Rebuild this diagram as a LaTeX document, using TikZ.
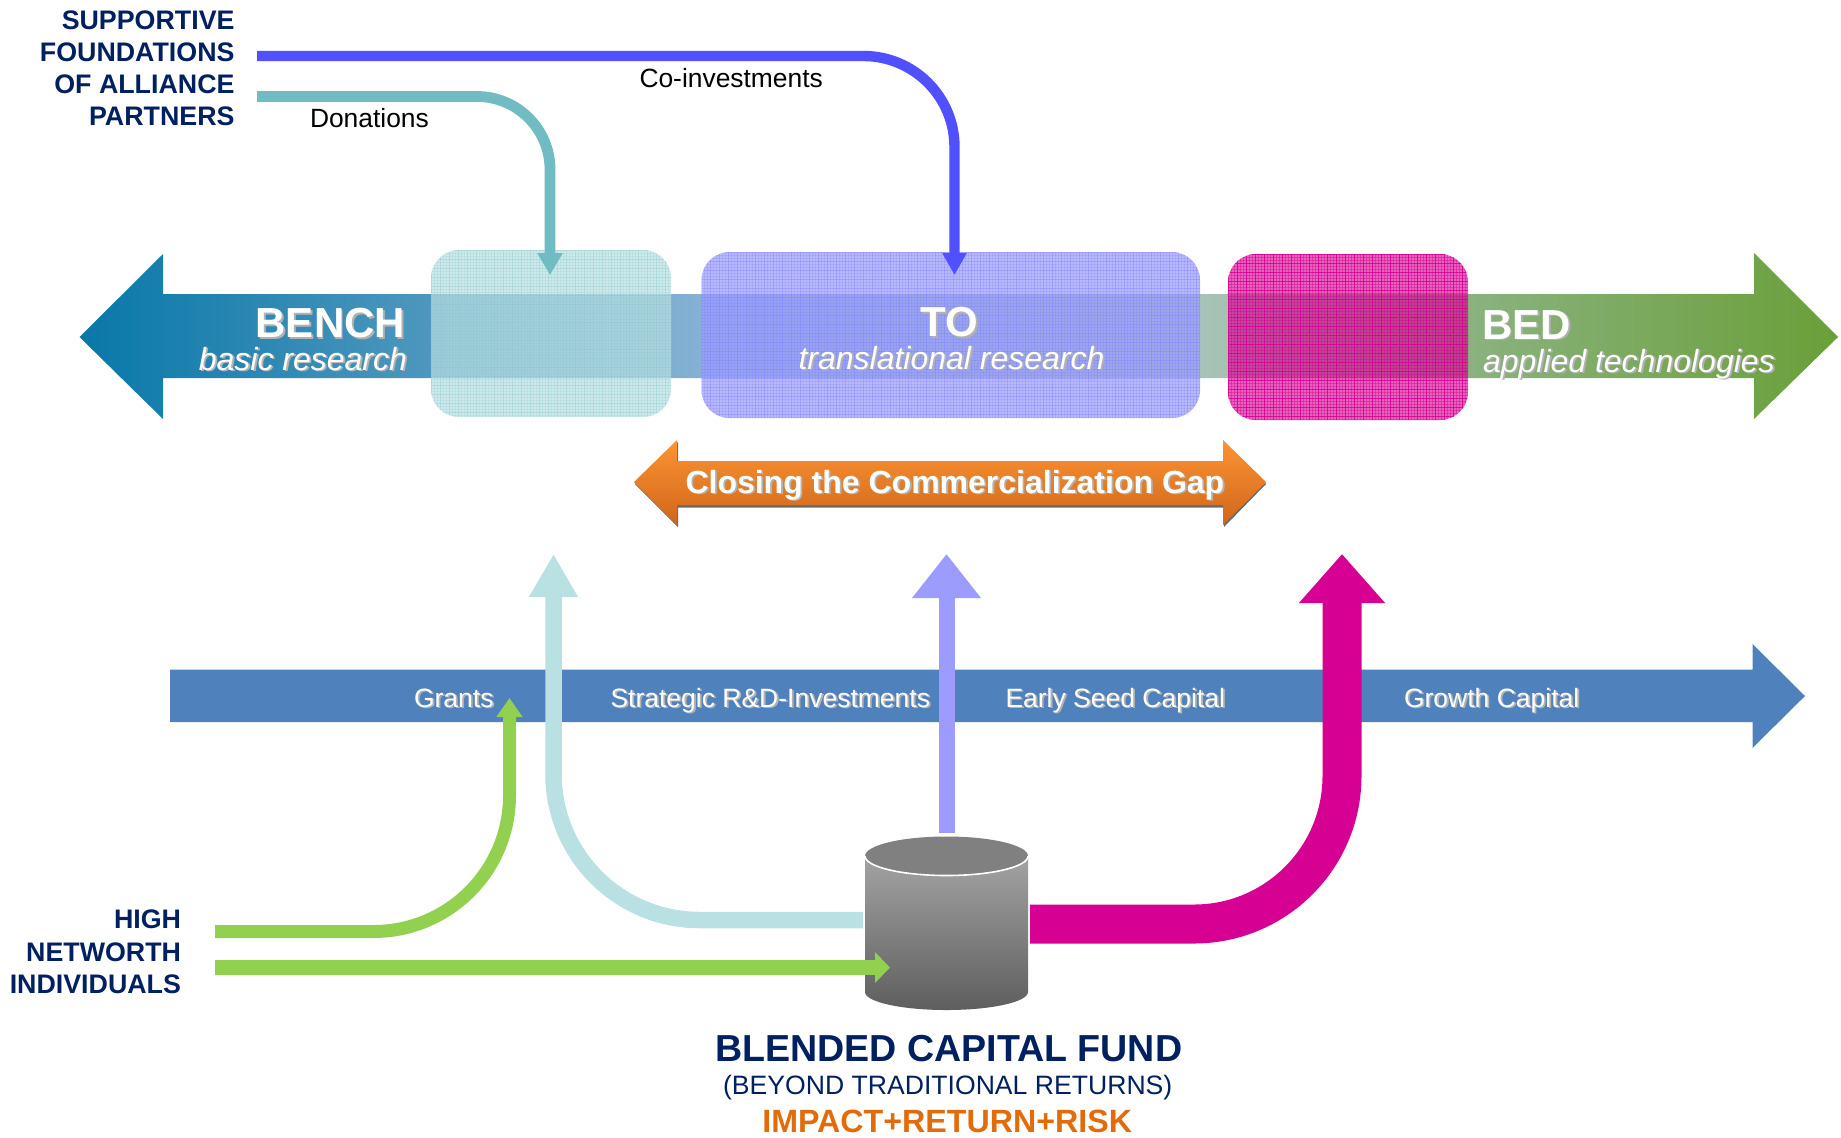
\documentclass[tikz,border=0pt]{standalone}
\usepackage{fontspec}
\setmainfont{Liberation Sans}
\usetikzlibrary{arrows.meta}
\definecolor{navy}{HTML}{002060}
\definecolor{orangetxt}{HTML}{E36C0A}
\definecolor{bandblue}{HTML}{4F81BD}
\definecolor{coblue}{HTML}{5050FF}
\definecolor{donteal}{HTML}{70BCC2}
\definecolor{paleteal}{HTML}{B9E0E3}
\definecolor{lav}{HTML}{9C9CFF}
\definecolor{mag}{HTML}{D60093}
\definecolor{grn}{HTML}{92D050}
\definecolor{bbA}{HTML}{0878A8}
\definecolor{bbB}{HTML}{4E97BE}
\definecolor{bbC}{HTML}{85B1D3}
\definecolor{bbD}{HTML}{A7C3B8}
\definecolor{bbE}{HTML}{8AB27F}
\definecolor{bbF}{HTML}{6A9F38}
\definecolor{gapTop}{HTML}{FC9434}
\definecolor{gapBot}{HTML}{D0661A}
\definecolor{cylTop}{HTML}{A3A3A3}
\definecolor{cylBot}{HTML}{5E5E5E}
\pgfdeclarehorizontalshading{benchbed}{100bp}{
  color(0bp)=(bbA);
  color(25bp)=(bbA);
  color(35bp)=(bbB);
  color(42.65bp)=(bbC);
  color(56.87bp)=(bbD);
  color(64.5bp)=(bbE);
  color(75bp)=(bbF);
  color(100bp)=(bbF)}
\newcommand\shtext[1]{\leavevmode\rlap{\kern.9pt\smash{\raisebox{-.9pt}{\textcolor{black!30}{#1}}}}#1}
\newcommand\plaid[7]{% x1 y1 x2 y2 colour fineopacity coarseopacity
  \begin{scope}
    \clip[rounded corners=14pt] (#1,#2) rectangle (#3,#4);
    \pgfmathsetmacro\xnext{#1+3}\pgfmathsetmacro\ynext{#2+3}
    \pgfmathsetmacro\xnexc{#1+9}\pgfmathsetmacro\ynexc{#2+9}
    \foreach \v in {#1,\xnext,...,#3} \draw[#5,line width=.35pt,opacity=#6] (\v,#2) -- (\v,#4);
    \foreach \v in {#2,\ynext,...,#4} \draw[#5,line width=.35pt,opacity=#6] (#1,\v) -- (#3,\v);
    \foreach \v in {#1,\xnexc,...,#3} \draw[#5,line width=.5pt,opacity=#7] (\v,#2) -- (\v,#4);
    \foreach \v in {#2,\ynexc,...,#4} \draw[#5,line width=.5pt,opacity=#7] (#1,\v) -- (#3,\v);
  \end{scope}}
\tikzset{
  x=0.5pt,y=-0.5pt,
  lbl/.style={inner sep=0pt,outer sep=0pt},
  side/.style={lbl,anchor=base east,text=navy,font=\fontsize{13.4}{13.4}\selectfont\bfseries},
  flowlabel/.style={lbl,anchor=base west,text=black,font=\fontsize{13.2}{13.2}\selectfont},
  bandlabel/.style={lbl,anchor=base west,text=white,font=\fontsize{13.25}{13.25}\selectfont},
  bigword/.style={lbl,text=white,font=\fontsize{21}{21}\selectfont\bfseries},
  subword/.style={lbl,text=white,font=\fontsize{16}{16}\selectfont\itshape},
  softbox/.style={rounded corners=14pt,inner sep=0pt,outer sep=0pt},
  flow/.style={line cap=butt,line join=round},
}
\begin{document}
\begin{tikzpicture}
\useasboundingbox (0,0) rectangle (1841,1137);

% coordinates for connector ends
\coordinate (coStart) at (257,56);
\coordinate (coBend) at (954.5,56);
\coordinate (coTip) at (954.5,275);
\coordinate (donStart) at (257,96.5);
\coordinate (donBend) at (550,96.5);
\coordinate (donTip) at (550,275);
\coordinate (paleStart) at (863,920);
\coordinate (paleBend) at (553.5,920);
\coordinate (paleTip) at (553.5,554);
\coordinate (lavStart) at (946.5,833);
\coordinate (lavTip) at (946.5,554);
\coordinate (magStart) at (1030,924);
\coordinate (magBend) at (1342,924);
\coordinate (magTip) at (1342,554);
\coordinate (grnStart) at (215,931.5);
\coordinate (grnBend) at (509.5,931.5);
\coordinate (grnTip) at (509.5,698);
\coordinate (grnbStart) at (215,967.5);
\coordinate (grnbTip) at (890,967.5);

% bench-to-bed arrow
\shade[shading=benchbed] (79.5,337) -- (163,254) -- (163,294) -- (1754,294) -- (1754,253) -- (1838,337) -- (1754,419) -- (1754,378) -- (163,378) -- (163,419) -- cycle;

% translucent boxes
\node[softbox,fill=paleteal,fill opacity=.72,minimum width=120pt,minimum height=83.5pt] (boxBench) at (551,333.5) {};
\plaid{431}{250}{671}{417}{paleteal!75!teal}{.22}{.22}
\node[softbox,fill=lav,fill opacity=.72,minimum width=249.25pt,minimum height=83pt] (boxTo) at (950.75,335) {};
\plaid{701.5}{252}{1200}{418}{lav!80!blue}{.22}{.22}
\node[softbox,fill=mag,fill opacity=.62,minimum width=120pt,minimum height=83pt] (boxBed) at (1348,337) {};
\plaid{1228}{254}{1468}{420}{mag}{.4}{.8}

% labels on the top arrow
\node[bigword,anchor=base east] (benchLabel) at (405,337.5) {\shtext{BENCH}};
\node[subword,anchor=base east] (benchSub) at (407,370) {\shtext{basic research}};
\node[bigword,anchor=base] (toLabel) at (949.3,336.5) {\shtext{TO}};
\node[subword,anchor=base] (toSub) at (951.5,369) {\shtext{translational research}};
\node[bigword,anchor=base west] (bedLabel) at (1482,339) {\shtext{BED}};
\node[subword,anchor=base west] (bedSub) at (1483,372) {\shtext{applied technologies}};

% gap arrow
\fill[black!58] (635,484) -- (678,442) -- (678,463.5) -- (1224,463.5) -- (1224,442) -- (1266,484) -- (1224,527) -- (1224,507.5) -- (678,507.5) -- (678,527) -- cycle;
\shade[top color=gapTop,bottom color=gapBot] (634,482) -- (677,440) -- (677,461) -- (1223,461) -- (1223,440) -- (1266,482) -- (1223,525) -- (1223,505) -- (677,505) -- (677,525) -- cycle;
\node[lbl,anchor=base west,text=white,font=\fontsize{16}{16}\selectfont\bfseries] (gapLabel) at (685.5,493) {\shtext{Closing the Commercialization Gap}};

% capital band
\fill[bandblue] (170,669.5) -- (1752.5,669.5) -- (1752.5,644) -- (1805,696) -- (1752.5,748) -- (1752.5,722) -- (170,722) -- cycle;
\node[bandlabel] (grants) at (414,707) {\shtext{Grants}};
\node[bandlabel] (strategic) at (610.5,707) {\shtext{Strategic R\&D-Investments}};
\node[bandlabel] (seed) at (1005.5,707) {\shtext{Early Seed Capital}};
\node[bandlabel] (growth) at (1404,707) {\shtext{Growth Capital}};

% upper connectors
\draw[flow,coblue,line width=5.2pt,rounded corners=45.5pt,-{Triangle[length=11pt,width=11.5pt]}] (coStart) -- (coBend) -- (coTip);
\draw[flow,donteal,line width=5.4pt,rounded corners=36.5pt,-{Triangle[length=11pt,width=12pt]}] (donStart) -- (donBend) -- (donTip);

% lower connectors
\draw[flow,paleteal,line width=8.25pt,rounded corners=73pt,-{Triangle[length=21.5pt,width=23pt]}] (paleStart) -- (paleBend) -- (paleTip);
\draw[flow,lav,line width=8pt,-{Triangle[length=22pt,width=33pt]}] (lavStart) -- (lavTip);
\draw[flow,mag,line width=19.5pt,rounded corners=74pt,-{Triangle[length=24.5pt,width=41.5pt]}] (magStart) -- (magBend) -- (magTip);
\draw[flow,grn,line width=6.5pt,rounded corners=68pt,-{Triangle[length=9.5pt,width=12.5pt]}] (grnStart) -- (grnBend) -- (grnTip);

% fund cylinder
\shade[top color=cylTop,bottom color=cylBot] (865,856) -- (865,992) arc[start angle=180,end angle=0,x radius=81.5,y radius=18] -- (1028,856) -- cycle;
\fill[black!50] (946.5,856) ellipse [x radius=81.5,y radius=19.5];
\draw[white,line width=.8pt] (865,856) arc[start angle=180,end angle=0,x radius=81.5,y radius=19.5];
\draw[flow,grn,line width=7.5pt,-{Triangle[length=7.5pt,width=15pt]}] (grnbStart) -- (grnbTip);

% flow labels
\node[flowlabel] (donations) at (310,127.8) {Donations};
\node[flowlabel] (coinvest) at (639.5,87.5) {Co-investments};

% side labels
\node[side] (sup1) at (234.5,29.7) {SUPPORTIVE};
\node[side] (sup2) at (234.5,61.7) {FOUNDATIONS};
\node[side] (sup3) at (234.5,93.7) {OF ALLIANCE};
\node[side] (sup4) at (234.5,125.7) {PARTNERS};
\node[side] (high1) at (181,928.5) {HIGH};
\node[side] (high2) at (181,961.2) {NETWORTH};
\node[side] (high3) at (181,993.5) {INDIVIDUALS};

% fund caption
\node[lbl,anchor=base,text=navy,font=\fontsize{18.8}{18.8}\selectfont\bfseries] (fundTitle) at (948.7,1061) {BLENDED CAPITAL FUND};
\node[lbl,anchor=base,text=navy,font=\fontsize{13.3}{13.3}\selectfont] (fundSub) at (947.7,1094.5) {(BEYOND TRADITIONAL RETURNS)};
\node[lbl,anchor=base,text=orangetxt,font=\fontsize{16.1}{16.1}\selectfont\bfseries] (fundTag) at (947.2,1132.5) {IMPACT+RETURN+RISK};
\end{tikzpicture}
\end{document}
